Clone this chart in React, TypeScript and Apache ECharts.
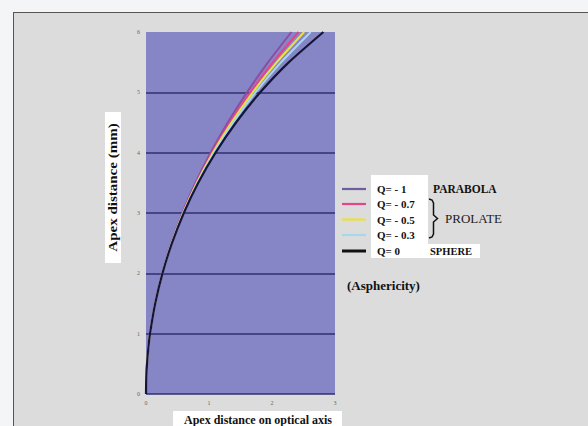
import React, { useEffect, useRef } from "react";
import * as echarts from "echarts";

// Apex distance (mm) along the surface – shared y values
const yValues = [0, 0.25, 0.5, 0.75, 1, 1.5, 2, 2.5, 3, 3.5, 4, 4.5, 5, 5.5, 6];
// Distance on optical axis for each asphericity
const parabolaX = [0, 0.004, 0.016, 0.036, 0.064, 0.144, 0.256, 0.401, 0.577, 0.785, 1.026, 1.298, 1.603, 1.939, 2.308];
const q07X = [0, 0.004, 0.016, 0.036, 0.064, 0.145, 0.258, 0.404, 0.584, 0.798, 1.047, 1.332, 1.655, 2.017, 2.42];
const q05X = [0, 0.004, 0.016, 0.036, 0.064, 0.145, 0.259, 0.406, 0.588, 0.806, 1.062, 1.357, 1.695, 2.077, 2.51];
const q03X = [0, 0.004, 0.016, 0.036, 0.064, 0.145, 0.259, 0.408, 0.593, 0.815, 1.078, 1.384, 1.738, 2.146, 2.614];
const sphereX = [0, 0.004, 0.016, 0.036, 0.064, 0.146, 0.261, 0.412, 0.6, 0.829, 1.104, 1.429, 1.813, 2.269, 2.816];

const seriesNames = ["Q= - 1", "Q= - 0.7", "Q= - 0.5", "Q= - 0.3", "Q= 0"];
const seriesX = [parabolaX, q07X, q05X, q03X, sphereX];
const curveColors = ["#8c4ca2", "#e4438e", "#ece23a", "#a6d8ea", "#15153a"];
const legendColors = ["#6e5e9e", "#e4438e", "#ece23a", "#a6d8ea", "#111111"];

const xTitle = "Apex distance on optical axis";
const yTitle = "Apex distance (mm)";
const groupLabels = ["PARABOLA", "PROLATE", "SPHERE"];
const noteLabel = "(Asphericity)";

const serif = "'Liberation Serif', 'DejaVu Serif', serif";

export default function App() {
  const ref = useRef<HTMLDivElement>(null);

  useEffect(() => {
    if (!ref.current) return;
    const chart = echarts.init(ref.current, undefined, { renderer: "svg" });

    const series = seriesNames.map((name, i) => ({
      name,
      type: "line",
      data: seriesX[i].map((x, j) => [x, yValues[j]]),
      showSymbol: false,
      smooth: 0.2,
      lineStyle: { color: curveColors[i], width: i === 4 ? 2.2 : 2 },
      z: 2 + (i === 4 ? 10 : 0),
    }));

    const legendY = [189, 204, 219.5, 235, 251];
    const graphics: any[] = [];
    // white box behind labels
    graphics.push({ type: "rect", shape: { x: 371, y: 175, width: 57, height: 83 }, style: { fill: "#ffffff" } });
    graphics.push({ type: "rect", shape: { x: 428, y: 244, width: 52, height: 14 }, style: { fill: "#ffffff" } });
    seriesNames.forEach((n, i) => {
      graphics.push({
        type: "line",
        shape: { x1: 342, y1: legendY[i], x2: 366, y2: legendY[i] },
        style: { stroke: legendColors[i], lineWidth: i === 4 ? 3 : 2.2 },
      });
      graphics.push({
        type: "text",
        x: 377,
        y: legendY[i],
        style: { text: n, fill: "#111", font: `bold 11px ${serif}`, textVerticalAlign: "middle" },
      });
    });
    graphics.push({
      type: "text",
      x: 433,
      y: legendY[0],
      style: { text: groupLabels[0], fill: "#111", font: `bold 11.5px ${serif}`, textVerticalAlign: "middle" },
    });
    graphics.push({
      type: "text",
      x: 445,
      y: 218,
      style: { text: groupLabels[1], fill: "#222", font: `13px ${serif}`, textVerticalAlign: "middle" },
    });
    graphics.push({
      type: "text",
      x: 430,
      y: legendY[4],
      style: { text: groupLabels[2], fill: "#111", font: `bold 10.5px ${serif}`, textVerticalAlign: "middle" },
    });
    graphics.push({
      type: "polyline",
      shape: {
        points: [
          [429, 199], [432, 200], [433.5, 203], [433.5, 215], [437.5, 218.5],
          [433.5, 222], [433.5, 234], [432, 237], [429, 238],
        ],
      },
      style: { stroke: "#111", lineWidth: 1.5, fill: null },
    });
    graphics.push({
      type: "text",
      x: 347,
      y: 285,
      style: { text: noteLabel, fill: "#111", font: `bold 13px ${serif}`, textVerticalAlign: "middle" },
    });
    // y axis title
    graphics.push({ type: "rect", shape: { x: 105, y: 112, width: 16, height: 151 }, style: { fill: "#ffffff" } });
    graphics.push({
      type: "text",
      x: 113.5,
      y: 187.5,
      rotation: Math.PI / 2,
      scaleX: 1.25,
      style: {
        text: yTitle,
        fill: "#111",
        font: `bold 12px ${serif}`,
        textAlign: "center",
        textVerticalAlign: "middle",
      },
    });
    // x axis title
    graphics.push({ type: "rect", shape: { x: 173, y: 411, width: 169, height: 20 }, style: { fill: "#ffffff" } });
    graphics.push({
      type: "text",
      x: 258,
      y: 420,
      style: {
        text: xTitle,
        fill: "#111",
        font: `bold 12px ${serif}`,
        textAlign: "center",
        textVerticalAlign: "middle",
      },
    });

    chart.setOption({
      animation: false,
      backgroundColor: "transparent",
      grid: {
        left: 146,
        top: 32,
        width: 189,
        height: 362,
        show: true,
        backgroundColor: "#8686c6",
        borderWidth: 0,
      },
      xAxis: {
        type: "value",
        min: 0,
        max: 3,
        interval: 1,
        axisLine: { show: false },
        axisTick: { show: false },
        splitLine: { show: false },
        axisLabel: { fontSize: 6, color: "#666", margin: 6, fontFamily: serif },
      },
      yAxis: {
        type: "value",
        min: 0,
        max: 6,
        interval: 1,
        axisLine: { show: false },
        axisTick: { show: false },
        splitLine: { show: true, showMaxLine: false, lineStyle: { color: "#2f2f70", width: 1.6 } },
        axisLabel: { fontSize: 6, color: "#666", margin: 6, fontFamily: serif },
      },
      series,
      graphic: graphics,
    });

    return () => chart.dispose();
  }, []);

  return (
    <div style={{ position: "fixed", left: 0, top: 0, width: 588, height: 426, background: "#f4f5f7", overflow: "hidden" }}>
      <div
        style={{
          position: "absolute",
          left: 13,
          top: 12,
          width: 600,
          height: 500,
          border: "1px solid #555",
          background: "#dcdcdc",
        }}
      />
      <div ref={ref} style={{ position: "absolute", left: 0, top: 0, width: 588, height: 426 }} />
    </div>
  );
}
